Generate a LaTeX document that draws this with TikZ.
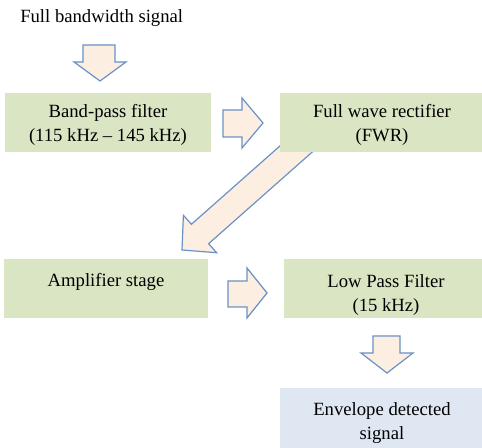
\documentclass[tikz,border=0pt]{standalone}
\usepackage{fontspec}
\setmainfont{Liberation Serif}
\definecolor{boxgreen}{HTML}{DAE5C3}
\definecolor{boxblue}{HTML}{DEE7F2}
\definecolor{arrfill}{HTML}{FDEEE2}
\definecolor{arrline}{HTML}{6A92C6}
\def\px{0.75pt}
\tikzset{
  blockarrow/.style={fill=arrfill, draw=arrline, line width=0.9pt, line join=miter},
  greenbox/.style={fill=boxgreen, draw=none, inner sep=0pt},
  bluebox/.style={fill=boxblue, draw=none, inner sep=0pt},
  plaintext/.style={inner sep=0pt, align=center, font=\fontsize{14}{18}\selectfont}
}
\begin{document}
\begin{tikzpicture}[x=0.75pt,y=-0.75pt]
\useasboundingbox (0,0) rectangle (482,448);
\fill[white] (0,0) rectangle (482,448);

% diagonal arrow (behind FWR box)
\path[blockarrow] (182,250) -- (183.4,215.3) -- (191.4,224.3) -- (296.3,131.5)
  -- (313.5,150.9) -- (208.6,243.7) -- (216.6,252.7) -- cycle;

\node[plaintext, anchor=base west] (src) at (20,23) {Full bandwidth signal};

\node[greenbox, minimum width={206*\px}, minimum height={59*\px}] (bpf) at (108,122.5) {};
\node[plaintext] (bpftext) at (108,125) {Band-pass filter\\(115 kHz -- 145 kHz)};
\node[greenbox, minimum width={202*\px}, minimum height={59*\px}] (fwr) at (381,122.5) {};
\node[plaintext] (fwrtext) at (382,125) {Full wave rectifier\\(FWR)};
\node[greenbox, minimum width={204*\px}, minimum height={59*\px}] (amp) at (106,288.5) {};
\node[plaintext] (amptext) at (106,281.5) {Amplifier stage};
\node[greenbox, minimum width={198*\px}, minimum height={59*\px}] (lpf) at (383,288.5) {};
\node[plaintext] (lpftext) at (386,295) {Low Pass Filter\\(15 kHz)};
\node[bluebox, minimum width={202*\px}, minimum height={60*\px}] (env) at (381,418) {};
\node[plaintext] (envtext) at (382,423) {Envelope detected\\signal};

% block arrows
\path[blockarrow] (83,45) -- (115,45) -- (115,62) -- (126,62) -- (100,81) -- (74,62) -- (83,62) -- cycle;
\path[blockarrow] (223,110) -- (242,110) -- (242,98) -- (263,123) -- (242,148) -- (242,137) -- (223,137) -- cycle;
\path[blockarrow] (228,281) -- (247,281) -- (247,268) -- (267,293) -- (247,318) -- (247,307) -- (228,307) -- cycle;
\path[blockarrow] (373,336) -- (400,336) -- (400,353) -- (413,353) -- (387,373) -- (361,353) -- (373,353) -- cycle;
\end{tikzpicture}
\end{document}
